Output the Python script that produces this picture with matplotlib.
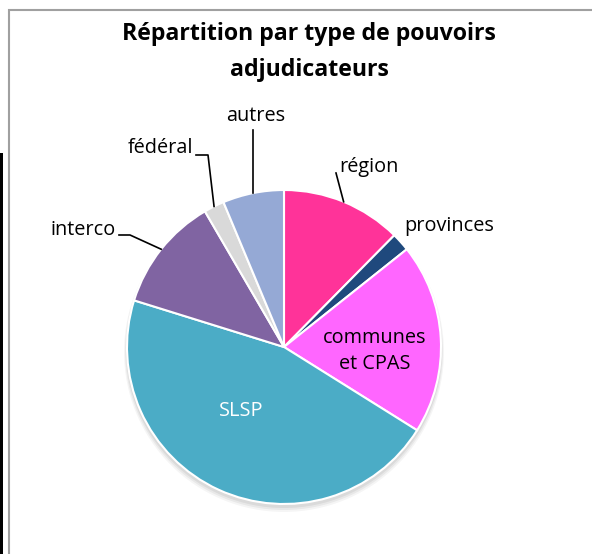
import numpy as np
import matplotlib
matplotlib.use("Agg")
import matplotlib.pyplot as plt
from matplotlib.patches import Rectangle, Circle

plt.rcParams['font.family'] = ['Open Sans', 'DejaVu Sans']

categories = ['région', 'provinces', 'communes\net CPAS', 'SLSP', 'interco', 'fédéral', 'autres']
shares = [12.4, 1.9, 19.6, 45.9, 11.8, 2.1, 6.3]
colors = ['#FF3399', '#1F497D', '#FF66FF', '#4BACC6', '#8064A2', '#D9D9D9', '#95A9D5']
title = 'Répartition par type de pouvoirs\nadjudicateurs'

W, H = 592, 554
fig = plt.figure(figsize=(W / 100, H / 100), dpi=100)
ax = fig.add_axes([0, 0, 1, 1])
ax.set_xlim(0, W)
ax.set_ylim(0, H)
ax.set_aspect('equal')
ax.axis('off')

def py(y):
    return H - y

cx, cy, r = 284, py(347), 157

# frame of the chart area + black strip on the left
ax.add_patch(Rectangle((9, -10), W, py(10) + 10, fill=False, ec='#A0A0A0', lw=1.5))
ax.add_patch(Rectangle((0, 0), 3, py(153), color='black', lw=0))

# soft shadow below the pie
for k, a in enumerate([0.06, 0.05, 0.04]):
    ax.add_patch(Circle((cx, cy - 3 - k), r + 1 + k, color='black', alpha=a, lw=0, zorder=1))

wedges, _ = ax.pie(shares, colors=colors, startangle=90, counterclock=False,
                   center=(cx, cy), radius=r, frame=True,
                   wedgeprops=dict(edgecolor='white', linewidth=1.5, zorder=2))
ax.set_xlim(0, W)
ax.set_ylim(0, H)
ax.axis('off')

def edge_point(w):
    ang = np.deg2rad((w.theta1 + w.theta2) / 2)
    return cx + r * np.cos(ang), cy + r * np.sin(ang)

fs = 14.3
line_kw = dict(color='black', lw=1.2)

# région
ex, ey = edge_point(wedges[0])
ax.plot([336, ex], [py(173), ey], **line_kw)
ax.text(339, py(167), categories[0], fontsize=fs, va='center', ha='left')
# provinces
ax.text(404, py(226), categories[1], fontsize=fs, va='center', ha='left')
# communes
ax.text(375, py(351), categories[2], fontsize=fs, va='center', ha='center', linespacing=1.45)
# SLSP
ax.text(241, py(411), categories[3], fontsize=fs, va='center', ha='center', color='white')
# interco
ex, ey = edge_point(wedges[4])
ax.plot([119, 130, ex], [py(235), py(235), ey], **line_kw)
ax.text(116, py(230), categories[4], fontsize=fs, va='center', ha='right')
# fédéral
ex, ey = edge_point(wedges[5])
ax.plot([196, 208, ex], [py(155), py(155), ey], **line_kw)
ax.text(193, py(148), categories[5], fontsize=fs, va='center', ha='right')
# autres
ex, ey = edge_point(wedges[6])
ax.plot([ex, ex], [py(130), ey], **line_kw)
ax.text(256, py(116), categories[6], fontsize=fs, va='center', ha='center')

ax.text(309, py(52), title, fontsize=16.7, fontweight='bold', ha='center', va='center',
        linespacing=1.68)

fig.savefig('out.png', dpi=100)
